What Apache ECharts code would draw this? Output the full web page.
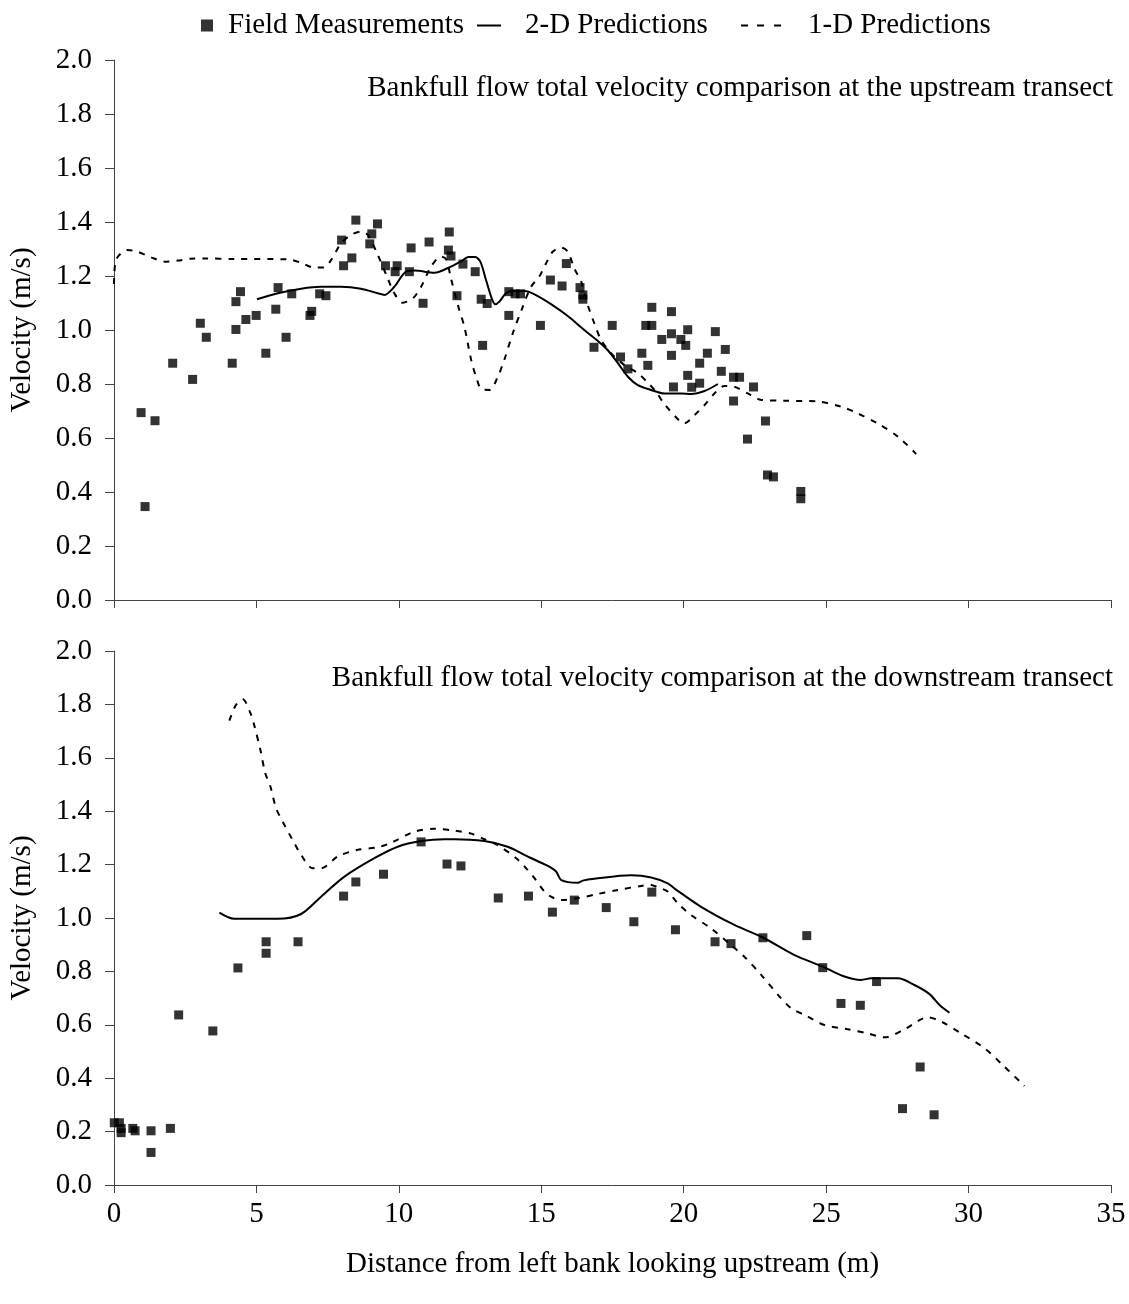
<!DOCTYPE html>
<html>
<head>
<meta charset="utf-8">
<script src="https://cdn.jsdelivr.net/npm/echarts@6/dist/echarts.min.js"></script>
<style>html,body{margin:0;padding:0;background:#fff}#c{width:1129px;height:1304px}</style>
</head>
<body>
<div id="c"></div>
<script>
// ---------- DATA ----------
const xTicks = [0, 5, 10, 15, 20, 25, 30, 35];
const yTicks = [0.0, 0.2, 0.4, 0.6, 0.8, 1.0, 1.2, 1.4, 1.6, 1.8, 2.0];
const seriesNames = ['Field Measurements', '2-D Predictions', '1-D Predictions'];
const titleUp = 'Bankfull flow total velocity comparison at the upstream transect';
const titleDown = 'Bankfull flow total velocity comparison at the downstream transect';
const xTitle = 'Distance from left bank looking upstream (m)';
const yTitle = 'Velocity (m/s)';

// Upstream transect
const upField = [
  [0.95,0.694],[1.09,0.346],[1.44,0.664],[2.06,0.877],[2.76,0.817],[3.03,1.025],[3.24,0.973],
  [4.15,0.877],[4.28,1.002],[4.28,1.105],[4.44,1.142],[4.63,1.039],[4.99,1.054],[5.33,0.914],
  [5.68,1.077],[5.76,1.157],[6.04,0.973],[6.24,1.134],[6.88,1.054],[6.94,1.069],[7.22,1.134],
  [7.44,1.127],[7.99,1.333],[8.06,1.238],[8.35,1.267],[8.49,1.407],[8.98,1.319],[9.05,1.356],
  [9.25,1.393],[9.53,1.238],[9.87,1.216],[9.94,1.238],[10.37,1.216],[10.43,1.304],[10.85,1.099],
  [11.06,1.326],[11.77,1.363],[11.74,1.296],[11.83,1.274],[12.04,1.127],[12.25,1.244],[12.68,1.216],
  [12.89,1.114],[12.94,0.943],[13.1,1.098],[13.86,1.142],[13.86,1.054],[14.08,1.134],[14.27,1.134],
  [14.97,1.017],[15.32,1.185],[15.73,1.163],[15.88,1.246],[16.36,1.157],[16.46,1.13],[16.46,1.114],
  [16.85,0.936],[17.49,1.017],[17.78,0.9],[18.04,0.856],[18.53,0.914],[18.67,1.017],[18.74,0.869],
  [18.88,1.017],[18.88,1.084],[19.23,0.965],[19.57,1.068],[19.57,0.986],[19.57,0.906],[19.64,0.789],
  [19.9,0.965],[20.07,0.943],[20.14,1.001],[20.14,0.832],[20.28,0.788],[20.56,0.803],[20.56,0.877],
  [20.83,0.914],[21.11,0.994],[21.32,0.847],[21.46,0.928],[21.75,0.825],[21.96,0.825],[21.75,0.737],
  [22.24,0.596],[22.45,0.789],[22.87,0.663],[22.94,0.463],[23.15,0.456],[24.11,0.402],[24.11,0.375]
];
const up2D = [
  [5.02,1.114],[5.75,1.136],[6.57,1.153],[7.27,1.160],[7.97,1.160],[8.67,1.153],[9.26,1.136],
  [9.49,1.13],[9.84,1.16],[10.25,1.216],[10.55,1.22],[11.25,1.212],[11.77,1.232],[12.25,1.259],
  [12.44,1.27],[12.68,1.27],[12.86,1.253],[13.06,1.185],[13.26,1.117],[13.38,1.095],[13.53,1.105],
  [13.76,1.136],[14.0,1.144],[14.41,1.144],[14.76,1.132],[15.34,1.096],[15.93,1.052],[16.51,1.0],
  [16.98,0.96],[17.33,0.926],[17.69,0.877],[18.04,0.827],[18.39,0.796],[18.86,0.778],[19.32,0.765],
  [19.91,0.765],[20.26,0.763],[20.73,0.774],[21.2,0.8]
];
const up1D = [
  [0.0,1.17],[0.07,1.259],[0.46,1.296],[0.83,1.29],[1.3,1.269],[1.83,1.253],[2.24,1.257],[2.7,1.264],
  [3.17,1.265],[4.22,1.263],[6.1,1.262],[6.57,1.249],[7.03,1.231],[7.38,1.232],[7.62,1.259],
  [7.97,1.321],[8.32,1.352],[8.67,1.364],[8.91,1.352],[9.26,1.278],[9.61,1.191],[9.84,1.136],
  [10.14,1.101],[10.49,1.117],[10.78,1.16],[11.13,1.235],[11.48,1.272],[11.66,1.262],[11.83,1.191],
  [12.07,1.093],[12.3,1.012],[12.54,0.889],[12.71,0.827],[12.91,0.780],[13.19,0.778],[13.45,0.821],
  [13.7,0.889],[14.0,0.988],[14.35,1.086],[14.64,1.16],[14.93,1.198],[15.17,1.247],[15.4,1.29],
  [15.7,1.305],[15.93,1.29],[16.16,1.228],[16.4,1.179],[16.63,1.093],[16.86,1.025],[17.1,0.963],
  [17.45,0.914],[17.92,0.870],[18.39,0.84],[18.72,0.807],[19.03,0.771],[19.32,0.726],[19.85,0.664],
  [20.02,0.654],[20.38,0.685],[20.73,0.722],[21.08,0.765],[21.43,0.793],[21.78,0.79],[22.25,0.765],
  [22.72,0.741],[23.54,0.738],[24.71,0.735],[25.53,0.716],[26.11,0.691],[26.81,0.654],[27.52,0.605],
  [28.16,0.541]
];

// Downstream transect
const downField = [
  [0.01,0.233],[0.19,0.233],[0.25,0.212],[0.25,0.196],[0.66,0.212],[0.74,0.203],[1.3,0.203],
  [1.3,0.122],[1.98,0.212],[2.27,0.637],[3.47,0.577],[4.35,0.813],[5.34,0.911],[5.34,0.868],
  [6.46,0.911],[8.06,1.082],[8.49,1.135],[9.46,1.164],[10.78,1.285],[11.69,1.202],[12.18,1.195],
  [13.49,1.075],[14.55,1.082],[15.39,1.022],[16.16,1.067],[17.28,1.039],[18.25,0.986],[18.88,1.097],
  [19.71,0.956],[21.1,0.911],[21.66,0.904],[22.78,0.926],[24.32,0.934],[24.88,0.814],[25.52,0.68],
  [26.2,0.673],[26.77,0.762],[27.68,0.286],[28.3,0.442],[28.79,0.263]
];
const down2D = [
  [3.7,1.02],[4.22,0.997],[5.75,0.997],[6.57,1.015],[7.27,1.08],[8.09,1.155],[9.14,1.224],
  [9.96,1.267],[10.78,1.288],[11.6,1.295],[11.95,1.295],[13.0,1.288],[13.82,1.267],[14.53,1.23],
  [15.23,1.195],[15.52,1.174],[15.7,1.142],[16.28,1.132],[16.46,1.14],[16.86,1.147],[18.15,1.16],
  [18.86,1.152],[19.44,1.13],[19.67,1.111],[20.61,1.042],[21.78,0.974],[22.78,0.927],[23.89,0.861],
  [24.88,0.818],[25.59,0.783],[26.23,0.768],[26.58,0.774],[27.52,0.774],[28.1,0.749],[28.63,0.715],
  [28.98,0.674],[29.33,0.645]
];
const down1D = [
  [4.05,1.739],[4.28,1.798],[4.52,1.819],[4.79,1.767],[4.93,1.719],[5.14,1.629],[5.31,1.542],
  [5.48,1.496],[5.69,1.411],[5.92,1.361],[6.27,1.292],[6.57,1.236],[6.98,1.186],[7.27,1.186],
  [7.85,1.23],[8.53,1.255],[9.26,1.265],[9.73,1.282],[10.54,1.323],[11.25,1.334],[11.95,1.327],
  [12.54,1.316],[13.0,1.295],[13.47,1.273],[14.12,1.224],[14.47,1.186],[14.76,1.149],[15.11,1.099],
  [15.34,1.08],[15.7,1.067],[16.28,1.074],[16.98,1.09],[17.69,1.105],[18.5,1.12],[18.86,1.124],
  [19.09,1.115],[19.44,1.099],[19.79,1.055],[20.26,1.011],[20.96,0.961],[21.66,0.899],[22.13,0.855],
  [22.72,0.787],[23.36,0.706],[23.77,0.662],[24.24,0.637],[24.94,0.599],[25.76,0.583],[26.46,0.568],
  [27.05,0.553],[27.75,0.583],[28.57,0.628],[29.04,0.612],[29.74,0.568],[30.56,0.512],[31.26,0.443],
  [31.96,0.371]
];

// ---------- CHART ----------
const FONT = '"Liberation Serif", "Times New Roman", serif';
const FS = 29;
const AX = '#444';
const chart = echarts.init(document.getElementById('c'), null, {renderer: 'canvas'});

function xAxis(idx, showLabels) {
  return {
    type: 'value', gridIndex: idx, min: xTicks[0], max: xTicks[xTicks.length - 1], interval: 5,
    axisLine: {onZero: false, lineStyle: {color: AX, width: 1}},
    axisTick: {show: true, inside: false, length: 8, lineStyle: {color: AX}},
    axisLabel: {show: showLabels, margin: 15, color: '#000', fontFamily: FONT, fontSize: FS},
    splitLine: {show: false},
    name: showLabels ? xTitle : '', nameLocation: 'middle', nameGap: 65,
    nameTextStyle: {color: '#000', fontFamily: FONT, fontSize: FS}
  };
}
function yAxis(idx) {
  return {
    type: 'value', gridIndex: idx, min: 0, max: 2, interval: 0.2,
    axisLine: {show: true, lineStyle: {color: AX, width: 1}},
    axisTick: {show: true, inside: false, length: 9, lineStyle: {color: AX}},
    axisLabel: {margin: 22, color: '#000', fontFamily: FONT, fontSize: FS,
      formatter: v => v.toFixed(1)},
    splitLine: {show: false},
    name: yTitle, nameLocation: 'middle', nameGap: 77, nameRotate: 90,
    nameTextStyle: {color: '#000', fontFamily: FONT, fontSize: FS}
  };
}
function scatter(idx, data) {
  return {name: seriesNames[0], type: 'scatter', xAxisIndex: idx, yAxisIndex: idx, data: data,
    symbol: 'rect', symbolSize: 9, itemStyle: {color: '#000'}, z: 5};
}
function solid(idx, data) {
  return {name: seriesNames[1], type: 'line', xAxisIndex: idx, yAxisIndex: idx, data: data,
    symbol: 'none', smooth: 0.3, lineStyle: {color: '#000', width: 2, type: 'solid'},
    itemStyle: {color: '#000'}};
}
function dashed(idx, data) {
  return {name: seriesNames[2], type: 'line', xAxisIndex: idx, yAxisIndex: idx, data: data,
    symbol: 'none', smooth: 0.3, lineStyle: {color: '#000', width: 2, type: [6, 7]},
    itemStyle: {color: '#000'}};
}
function legendText(pad) {
  return {fontFamily: FONT, fontSize: FS, color: '#000', padding: [0, 0, 0, pad]};
}

chart.setOption({
  animation: false,
  backgroundColor: '#fff',
  textStyle: {fontFamily: FONT},
  title: [
    {text: titleUp, right: 11, top: 69, textStyle: {fontFamily: FONT, fontSize: FS, fontWeight: 'normal', color: '#000'}},
    {text: titleDown, right: 11, top: 659, textStyle: {fontFamily: FONT, fontSize: FS, fontWeight: 'normal', color: '#000'}}
  ],
  legend: [
    {top: 6, left: 196, itemWidth: 12, itemHeight: 12, selectedMode: false, textStyle: legendText(10),
      data: [{name: seriesNames[0], icon: 'rect', itemStyle: {color: '#000'}}]},
    {top: 6, left: 472, itemWidth: 24, itemHeight: 2, selectedMode: false, textStyle: legendText(19),
      data: [{name: seriesNames[1], icon: 'rect', itemStyle: {color: '#000'}}]},
    {top: 6, left: 736, itemWidth: 40, itemHeight: 2, selectedMode: false, textStyle: legendText(22),
      data: [{name: seriesNames[2], icon: 'path://M0,0H7V2H0Z M16,0H23V2H16Z M33,0H40V2H33Z', itemStyle: {color: '#000'}}]}
  ],
  grid: [
    {left: 113, top: 60, width: 998, height: 540, containLabel: false},
    {left: 113, top: 651, width: 998, height: 534, containLabel: false}
  ],
  xAxis: [xAxis(0, false), xAxis(1, true)],
  yAxis: [yAxis(0), yAxis(1)],
  series: [
    scatter(0, upField), solid(0, up2D), dashed(0, up1D),
    scatter(1, downField), solid(1, down2D), dashed(1, down1D)
  ]
});
</script>
</body>
</html>
